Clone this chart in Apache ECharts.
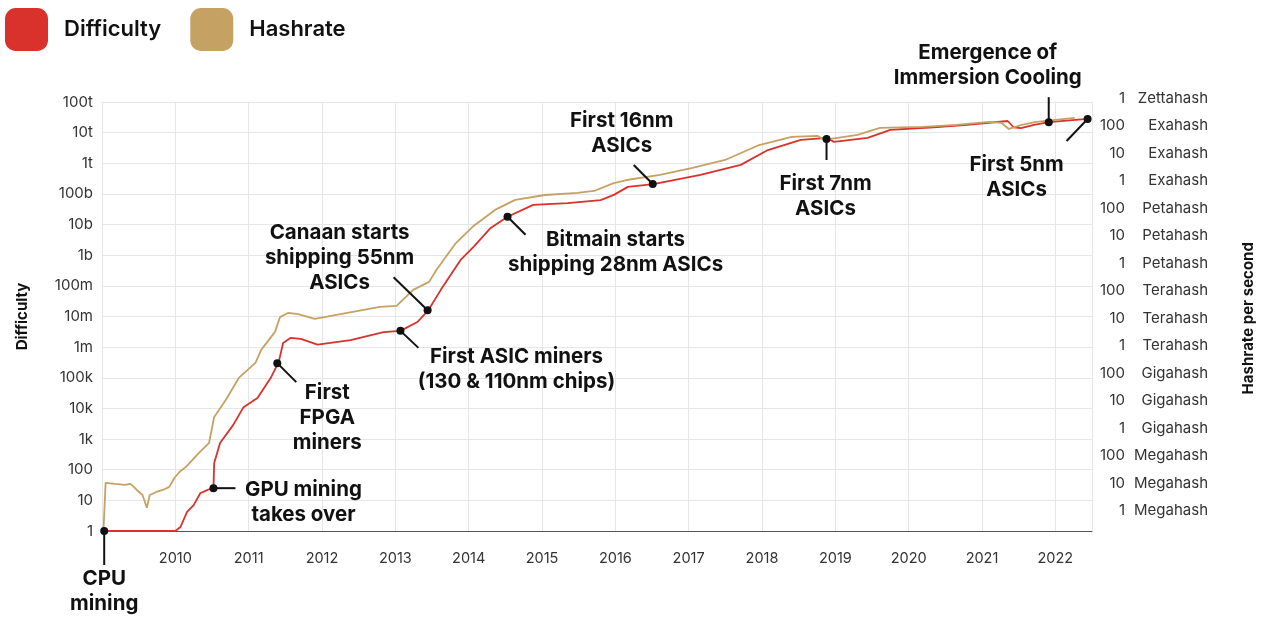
<!DOCTYPE html>
<html><head><meta charset="utf-8">
<script src="https://cdn.jsdelivr.net/npm/echarts@6/dist/echarts.min.js"></script>
<style>html,body{margin:0;padding:0;background:#fff}#c{width:1264px;height:617px}</style>
</head><body><div id="c"></div>
<script>
// ---- data ----
const yearTicks = [2010,2011,2012,2013,2014,2015,2016,2017,2018,2019,2020,2021,2022];
const diffTickLabels = ['1','10','100','1k','10k','100k','1m','10m','100m','1b','10b','100b','1t','10t','100t'];
const hashTickNumbers = ['1','10','100','1','10','100','1','10','100','1','10','100','1','10','100','1'];
const hashTickUnits = ['Megahash','Megahash','Megahash','Gigahash','Gigahash','Gigahash','Terahash','Terahash','Terahash','Petahash','Petahash','Petahash','Exahash','Exahash','Exahash','Zettahash'];

const diffYears = [2009.03,2010.00,2010.07,2010.16,2010.25,2010.34,2010.44,2010.52,2010.53,2010.61,2010.79,2010.93,2011.12,2011.30,2011.41,2011.47,2011.57,2011.71,2011.94,2012.39,2012.84,2013.07,2013.30,2013.45,2013.62,2013.89,2014.07,2014.30,2014.53,2014.88,2015.35,2015.80,2015.98,2016.17,2016.52,2017.16,2017.71,2018.08,2018.53,2018.89,2018.98,2019.44,2019.75,2020.34,2020.80,2021.35,2021.43,2021.53,2021.71,2021.91,2022.44];
const diffValues = [1,1,1.35,4.2,7,17,22,25,166,740,2900,11000,22000,98000,3.3e5,1.37e6,2.0e6,1.86e6,1.2e6,1.7e6,3.1e6,3.4e6,6.6e6,1.6e7,7.4e7,7e8,1.9e9,7.8e9,1.8e10,4.4e10,5.0e10,6.3e10,9.3e10,1.7e11,2.1e11,4.2e11,8.9e11,2.7e12,5.8e12,6.7e12,5.0e12,6.7e12,1.23e13,1.5e13,1.8e13,2.4e13,1.5e13,1.4e13,1.8e13,2.2e13,2.8e13];

const hashYears = [2009.02,2009.05,2009.18,2009.32,2009.39,2009.44,2009.48,2009.56,2009.62,2009.66,2009.75,2009.84,2009.93,2010.00,2010.07,2010.16,2010.34,2010.48,2010.55,2010.71,2010.89,2011.12,2011.20,2011.39,2011.46,2011.57,2011.71,2011.94,2012.39,2012.84,2013.07,2013.30,2013.52,2013.62,2013.89,2014.12,2014.43,2014.71,2015.12,2015.57,2015.80,2016.07,2016.25,2016.71,2017.16,2017.61,2018.08,2018.53,2018.89,2018.98,2019.44,2019.75,2020.34,2020.80,2021.26,2021.43,2021.53,2021.71,2021.91,2022.44];
const hashValues = [1.9e5,1.05e7,9.6e6,8.8e6,9.6e6,7.5e6,5.8e6,3.8e6,1.3e6,3.8e6,4.9e6,5.8e6,7.5e6,1.58e7,2.6e7,4.0e7,1.3e8,3.0e8,2.6e9,1.07e10,6.8e10,2.4e11,7.1e11,3.2e12,1.1e13,1.56e13,1.4e13,9.4e12,1.56e13,2.6e13,2.8e13,1.07e14,2.1e14,5.7e14,5.4e15,2.1e16,8.6e16,2.0e17,3.0e17,3.6e17,4.2e17,8.1e17,1.05e18,1.6e18,2.9e18,5.6e18,1.96e19,3.9e19,4.2e19,3.0e19,4.6e19,8.2e19,8.9e19,1.05e20,1.35e20,1.24e20,7.5e19,1.05e20,1.35e20,1.9e20];

const annotYears = [2009.03,2010.52,2011.39,2013.07,2013.44,2014.53,2016.51,2018.88,2021.91,2022.44];
const annotValues = [1,25,3.0e5,3.4e6,1.6e7,1.8e10,2.1e11,6.2e12,2.2e13,2.8e13];
const annotTexts = ['CPU\nmining','GPU mining\ntakes over','First\nFPGA\nminers','First ASIC miners\n(130 & 110nm chips)','Canaan starts\nshipping 55nm\nASICs','Bitmain starts\nshipping 28nm ASICs','First 16nm\nASICs','First 7nm\nASICs','Emergence of\nImmersion Cooling','First 5nm\nASICs'];

// ---- layout (offsets from the annotated point, px) ----
const annotLayout = [
  {lead:[0,34],  text:[0,48]},
  {lead:[22,0],  text:[90,2]},
  {lead:[19,19], text:[50,30]},
  {lead:[18,17], text:[116,26]},
  {lead:[-34,-33], text:[-88,-77]},
  {lead:[18,18], text:[108,23]},
  {lead:[-19,-19], text:[-31,-63]},
  {lead:[0,21],  text:[-1,45]},
  {lead:[0,-25], text:[-61,-69]},
  {lead:[-21,22], text:[-71,46]}
];

const RED = '#d9312b', TAN = '#c6a164';
const FONT = 'Inter';
const chart = echarts.init(document.getElementById('c'), null, {renderer:'canvas'});

function diffLabel(v){
  const e = Math.round(Math.log10(v));
  if (Math.abs(Math.log10(v) - e) > 1e-6) return '';
  return diffTickLabels[e] !== undefined ? diffTickLabels[e] : '';
}
function hashLabel(v){
  const e = Math.round(Math.log10(v));
  if (Math.abs(Math.log10(v) - e) > 1e-6) return '';
  const i = e - 6;
  if (i < 0 || i >= hashTickUnits.length) return '';
  return '{n|' + hashTickNumbers[i] + '}{u|' + hashTickUnits[i] + '}';
}
const xCommon = {type:'value', min:2009, max:2022.5, interval:1};

chart.setOption({
  animation:false,
  textStyle:{fontFamily:FONT},
  legend:{
    left:0, top:3, itemWidth:43, itemHeight:43, itemGap:29, icon:'roundRect',
    textStyle:{fontSize:22, fontWeight:600, color:'#111', fontFamily:FONT, padding:[4,0,0,11]},
    data:['Difficulty','Hashrate']
  },
  grid:[
    {left:102, right:172, top:102, bottom:86},
    {left:102, right:172, top:98, bottom:78.5}
  ],
  xAxis:[
    Object.assign({}, xCommon, {gridIndex:0,
      axisLine:{show:true, onZero:false, lineStyle:{color:'#555', width:1}},
      axisTick:{show:false},
      splitLine:{show:true, lineStyle:{color:'#e6e6e6', width:1}},
      axisLabel:{margin:20, fontSize:14.5, color:'#333', fontFamily:FONT,
        formatter:v => yearTicks.indexOf(v) >= 0 ? String(v) : ''}
    }),
    Object.assign({}, xCommon, {gridIndex:1, show:false})
  ],
  yAxis:[
    {gridIndex:0, type:'log', logBase:10, min:1, max:1e14, interval:1,
      name:'Difficulty', nameLocation:'middle', nameRotate:90, nameGap:72,
      nameTextStyle:{fontSize:15, fontWeight:'bold', color:'#111', fontFamily:FONT},
      axisLine:{show:false}, axisTick:{show:false},
      splitLine:{show:true, lineStyle:{color:'#e6e6e6', width:1}},
      axisLabel:{margin:9, fontSize:15, color:'#333', fontFamily:FONT, formatter:diffLabel}
    },
    {gridIndex:1, type:'log', logBase:10, min:1e5, max:1e21, interval:1, position:'right',
      name:'Hashrate per second', nameLocation:'middle', nameRotate:90, nameGap:162,
      nameTextStyle:{fontSize:15, fontWeight:'bold', color:'#111', fontFamily:FONT},
      axisLine:{show:false}, axisTick:{show:false}, splitLine:{show:false},
      axisLabel:{margin:18, fontSize:15, color:'#333', fontFamily:FONT, formatter:hashLabel,
        rich:{
          n:{width:28, align:'right', fontSize:15, color:'#333', fontFamily:FONT},
          u:{width:83, align:'right', fontSize:15, color:'#333', fontFamily:FONT}
        }}
    }
  ],
  series:[
    {name:'Difficulty', type:'line', xAxisIndex:0, yAxisIndex:0, showSymbol:false, symbol:'none',
      color:RED, lineStyle:{color:RED, width:1.8}, z:2,
      data: diffYears.map((y,i)=>[y, diffValues[i]])},
    {name:'Hashrate', type:'line', xAxisIndex:1, yAxisIndex:1, showSymbol:false, symbol:'none',
      color:TAN, lineStyle:{color:TAN, width:1.8}, z:3,
      data: hashYears.map((y,i)=>[y, hashValues[i]])}
  ]
});

// ---- annotations placed through the difficulty series' coordinate system ----
const g = [];
annotYears.forEach((yr,i)=>{
  const p = chart.convertToPixel({seriesIndex:0}, [yr, annotValues[i]]);
  const L = annotLayout[i];
  g.push({type:'line', z:50, shape:{x1:p[0], y1:p[1], x2:p[0]+L.lead[0], y2:p[1]+L.lead[1]},
    style:{stroke:'#111', lineWidth:2}});
  g.push({type:'circle', z:51, shape:{cx:p[0], cy:p[1], r:4}, style:{fill:'#111'}});
  g.push({type:'text', z:52, x:p[0]+L.text[0], y:p[1]+L.text[1]-12.5,
    style:{text:annotTexts[i], fill:'#111', fontSize:20.5, fontWeight:'bold', fontFamily:FONT,
      align:'center', verticalAlign:'top', lineHeight:25}});
});
chart.setOption({graphic:g});
</script></body></html>
